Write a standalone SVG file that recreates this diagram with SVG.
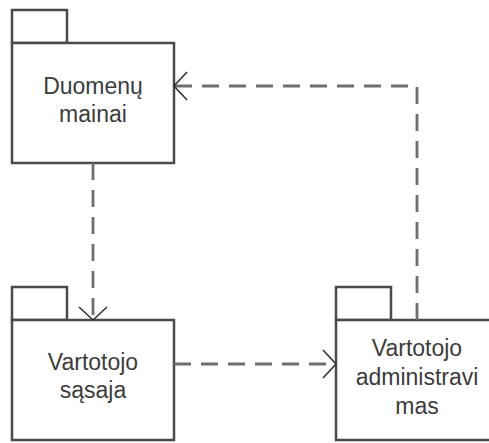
<svg xmlns="http://www.w3.org/2000/svg" width="489" height="443" viewBox="0 0 489 443">
  <style>
    .pkg { fill: #ffffff; stroke: #4a4a4a; stroke-width: 2.5; }
    .label { font-family: "Liberation Sans", Arial, sans-serif; font-size: 23px; fill: #3c3c3c; text-anchor: middle; }
    .dep { fill: none; stroke: #6e6e6e; stroke-width: 2.8; stroke-dasharray: 17 10; }
  </style>
  <defs>
    <marker id="open-arrow" markerUnits="userSpaceOnUse" markerWidth="30" markerHeight="34" refX="0" refY="0" viewBox="-15 -17 30 34" orient="auto" overflow="visible">
      <path d="M -13 -14 L 0 0 L -13 14" fill="none" stroke="#333333" stroke-width="1.6"/>
    </marker>
  </defs>
  <rect width="489" height="443" fill="#ffffff"/>

  <g id="duomenu-mainai">
    <rect class="pkg" x="12" y="10" width="55" height="33"/>
    <rect class="pkg" x="12" y="43" width="162" height="120"/>
    <text class="label" x="93" y="94">Duomenų</text>
    <text class="label" x="93" y="122">mainai</text>
  </g>

  <g id="vartotojo-sasaja">
    <rect class="pkg" x="12" y="287" width="55" height="33"/>
    <rect class="pkg" x="12" y="320" width="162" height="120"/>
    <text class="label" x="93" y="370">Vartotojo</text>
    <text class="label" x="93" y="398">sąsaja</text>
  </g>

  <g id="vartotojo-administravimas">
    <rect class="pkg" x="336" y="287" width="55" height="33"/>
    <rect class="pkg" x="336" y="320" width="162" height="120"/>
    <text class="label" x="417" y="356">Vartotojo</text>
    <text class="label" x="417" y="385">administravi</text>
    <text class="label" x="417" y="414">mas</text>
  </g>

  <g id="connectors">
    <path class="dep" d="M93 163 V320" marker-end="url(#open-arrow)"/>
    <path class="dep" d="M174 364 H336" marker-end="url(#open-arrow)"/>
    <path class="dep" d="M417 320 V86 H174" marker-end="url(#open-arrow)"/>
  </g>
</svg>
